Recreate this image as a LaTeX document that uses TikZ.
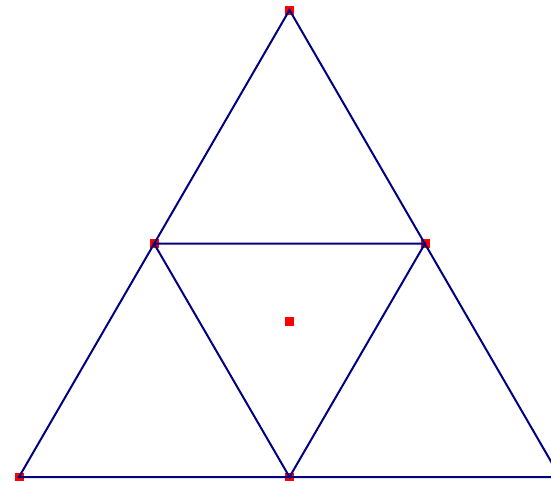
\documentclass[tikz,border=0pt]{standalone}
\usepackage{tikz}

\tikzset{
  pt/.style={draw=none, fill=red, minimum size=9pt, inner sep=0pt},
  edge/.style={draw={rgb,255:red,0;green,0;blue,128}, line width=2pt}
}

\begin{document}
\begin{tikzpicture}[x=1pt, y=-1pt]
  \useasboundingbox (0,0) rectangle (551,480);
  \clip (0,0) rectangle (551,480);
  \node[pt] (top) at (289.5,10) {};
  \node[pt] (bl) at (19,477) {};
  \coordinate (br) at (560,477);
  \node[pt] (ml) at (154,243.5) {};
  \node[pt] (mr) at (425,243.5) {};
  \node[pt] (mb) at (289.5,477) {};
  \node[pt] (cen) at (289.5,321.5) {};
  \draw[edge] (top.center) -- (bl.center) -- (br) -- cycle;
  \draw[edge] (ml.center) -- (mr.center) -- (mb.center) -- cycle;
\end{tikzpicture}
\end{document}
